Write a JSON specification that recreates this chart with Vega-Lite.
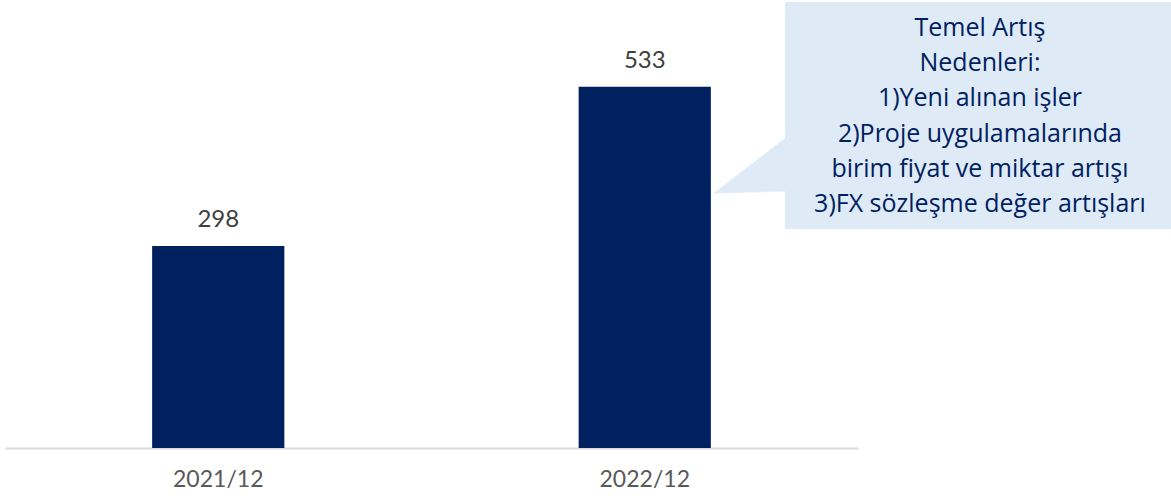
{
  "$schema": "https://vega.github.io/schema/vega-lite/v6.json",
  "autosize": "none",
  "width": 853,
  "height": 448,
  "padding": {"left": 5, "top": 0, "right": 313, "bottom": 53},
  "config": {
    "view": {"stroke": null},
    "font": "Lato"
  },
  "layer": [
    {
      "data": {
        "values": [
          {"period": "2021/12", "value": 298},
          {"period": "2022/12", "value": 533}
        ]
      },
      "encoding": {
        "x": {
          "field": "period",
          "type": "nominal",
          "title": null,
          "scale": {"paddingInner": 0.69, "paddingOuter": 0.345},
          "axis": {
            "labelAngle": 0,
            "labelFontSize": 23,
            "labelColor": "#595959",
            "labelPadding": 20,
            "ticks": false,
            "domainColor": "#d9d9d9",
            "domainWidth": 2
          }
        },
        "y": {
          "field": "value",
          "type": "quantitative",
          "scale": {"domain": [0, 661], "nice": false, "zero": true},
          "axis": null
        }
      },
      "layer": [
        {"mark": {"type": "bar", "color": "#002060"}},
        {
          "mark": {"type": "text", "baseline": "alphabetic", "dy": -19, "fontSize": 24, "color": "#404040"},
          "encoding": {"text": {"field": "value", "type": "quantitative"}}
        }
      ]
    },
    {
      "data": {"values": [{"u1": 1.829, "u2": 2.75, "y1": 658, "y2": 323}]},
      "mark": {"type": "rect", "color": "#deebf7"},
      "encoding": {
        "x": {"field": "u1", "type": "quantitative", "scale": {"domain": [0, 2]}, "axis": null},
        "x2": {"field": "u2"},
        "y": {"field": "y1", "type": "quantitative"},
        "y2": {"field": "y2"}
      }
    },
    {
      "data": {
        "values": [
          {"u": 1.84, "v": 462, "k": 1},
          {"u": 1.662, "v": 376, "k": 2},
          {"u": 1.84, "v": 379, "k": 3},
          {"u": 1.84, "v": 462, "k": 4}
        ]
      },
      "mark": {"type": "line", "fill": "#deebf7", "stroke": "#deebf7", "strokeWidth": 0.5},
      "encoding": {
        "x": {"field": "u", "type": "quantitative", "scale": {"domain": [0, 2]}, "axis": null},
        "y": {"field": "v", "type": "quantitative"},
        "order": {"field": "k"}
      }
    },
    {
      "data": {
        "values": [
          {"u": 2.286, "v": 620, "line": "Temel Artış"},
          {"u": 2.286, "v": 568, "line": "Nedenleri:"},
          {"u": 2.286, "v": 517, "line": "1)Yeni alınan işler"},
          {"u": 2.286, "v": 464, "line": "2)Proje uygulamalarında"},
          {"u": 2.286, "v": 412, "line": "birim fiyat ve miktar artışı"},
          {"u": 2.286, "v": 360, "line": "3)FX sözleşme değer artışları"}
        ]
      },
      "mark": {"type": "text", "align": "center", "baseline": "middle", "font": "Open Sans", "fontSize": 25, "color": "#002060"},
      "encoding": {
        "x": {"field": "u", "type": "quantitative", "scale": {"domain": [0, 2]}, "axis": null},
        "y": {"field": "v", "type": "quantitative"},
        "text": {"field": "line"}
      }
    }
  ],
  "resolve": {"scale": {"x": "independent"}, "axis": {"x": "independent"}}
}
